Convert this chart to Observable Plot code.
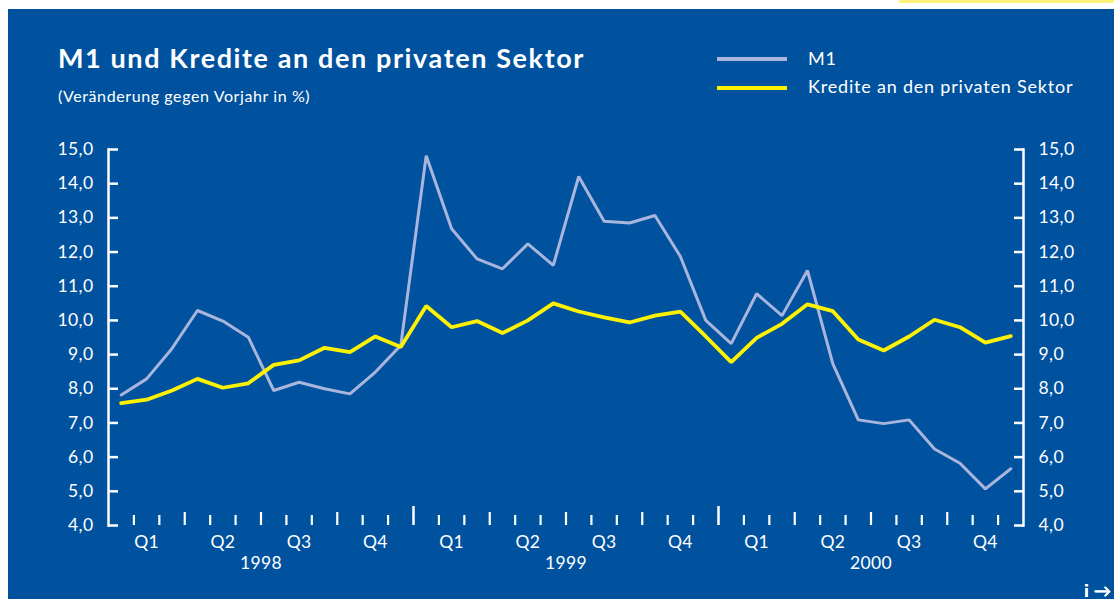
<!DOCTYPE html>
<html>
<head>
<meta charset="utf-8">
<script src="https://cdn.jsdelivr.net/npm/d3@7"></script>
<script src="https://cdn.jsdelivr.net/npm/@observablehq/plot@0.6"></script>
<style>
  html, body { margin: 0; padding: 0; background: #ffffff; width: 1114px; height: 599px; overflow: hidden; }
  #wrap { position: relative; width: 1114px; height: 599px; font-family: Lato, "Open Sans", sans-serif; }
  #panel { position: absolute; left: 8px; top: 9px; right: 0; bottom: 0; background: #00529e; }
  #strip { position: absolute; left: 899px; top: 0; width: 215px; height: 3px; background: #fff27a; }
  #title { position: absolute; left: 58px; top: 41px; color: #fff; font-weight: 700; font-size: 27px; letter-spacing: 1.6px; white-space: nowrap; }
  #subtitle { position: absolute; left: 58px; top: 86px; color: #fff; font-size: 16px; letter-spacing: 0.6px; white-space: nowrap; }
  .leg { position: absolute; left: 717px; height: 4px; width: 70px; }
  .legtxt { position: absolute; left: 808px; color: #fff; font-size: 18px; letter-spacing: 0.8px; white-space: nowrap; }
  #chart { position: absolute; left: 0; top: 0; }
</style>
</head>
<body>
<div id="wrap">
  <div id="panel"></div>
  <div id="strip"></div>
  <div id="title">M1 und Kredite an den privaten Sektor</div>
  <div id="subtitle">(Veränderung gegen Vorjahr in %)</div>
  <div class="leg" style="top:57px;background:#a9b5dd"></div>
  <div class="legtxt" style="top:47px">M1</div>
  <div class="leg" style="top:86px;background:#fff200"></div>
  <div class="legtxt" style="top:75px">Kredite an den privaten Sektor</div>
  <div id="chart"></div>
</div>
<script>
// Monthly values, Jan 1998 – Dec 2000
const m1 = [7.82, 8.29, 9.18, 10.29, 9.98, 9.51, 7.95, 8.19, 8.00, 7.85, 8.49, 9.27,
            14.82, 12.68, 11.80, 11.51, 12.24, 11.61, 14.21, 12.90, 12.85, 13.07, 11.87, 10.00,
            9.32, 10.78, 10.14, 11.46, 8.73, 7.09, 6.98, 7.09, 6.24, 5.82, 5.07, 5.66];
const kredite = [7.58, 7.68, 7.95, 8.29, 8.03, 8.16, 8.70, 8.83, 9.20, 9.07, 9.53, 9.22,
                 10.42, 9.80, 9.98, 9.63, 10.00, 10.50, 10.26, 10.09, 9.94, 10.14, 10.26, 9.53,
                 8.78, 9.49, 9.90, 10.47, 10.27, 9.44, 9.12, 9.53, 10.02, 9.80, 9.35, 9.54];
const years = ["1998", "1999", "2000"];
const quarters = ["Q1", "Q2", "Q3", "Q4"];
const yTicks = [4, 5, 6, 7, 8, 9, 10, 11, 12, 13, 14, 15];

const nMonths = m1.length;
const rows = m1.map((v, i) => ({i: i + 0.5, m1: v, kr: kredite[i]}));
const yearBounds = years.slice(1).map((_, k) => (k + 1) * 12);
const quarterBounds = d3.range(3, nMonths, 3).filter(t => t % 12 !== 0);
const monthBounds = d3.range(1, nMonths).filter(t => t % 3 !== 0);
const quarterCenters = years.flatMap((y, k) => quarters.map((q, j) => k * 12 + j * 3 + 1.5));
const yearCenters = years.map((y, k) => k * 12 + 6);
const fmt = d => d.toFixed(1).replace(".", ",");
const white = "#ffffff";
const fontFam = "Lato, 'Open Sans', sans-serif";

const chart = Plot.plot({
  width: 1114,
  height: 599,
  marginLeft: 108,
  marginRight: 91,
  marginTop: 149,
  marginBottom: 74,
  style: {background: "transparent", color: white, fontFamily: fontFam, fontSize: "17px", letterSpacing: "0.4px"},
  x: {domain: [0, nMonths], axis: null},
  y: {domain: [4, 15], axis: null},
  marks: [
    Plot.frame({anchor: "left", stroke: white, strokeWidth: 2.5}),
    Plot.frame({anchor: "right", stroke: white, strokeWidth: 2.5}),
    Plot.axisY({anchor: "left", ticks: yTicks, tickSize: -10, tickPadding: 25, tickFormat: fmt,
                stroke: white, strokeWidth: 2.5, fill: white, fontSize: 17.5}),
    Plot.axisY({anchor: "right", ticks: yTicks, tickSize: -10, tickPadding: 25, tickFormat: fmt,
                stroke: white, strokeWidth: 2.5, fill: white, fontSize: 17.5}),
    Plot.axisX({anchor: "bottom", ticks: monthBounds, tickSize: -10, tickFormat: () => "", stroke: white, strokeWidth: 2.2}),
    Plot.axisX({anchor: "bottom", ticks: quarterBounds, tickSize: -13, tickFormat: () => "", stroke: white, strokeWidth: 2.2}),
    Plot.axisX({anchor: "bottom", ticks: yearBounds, tickSize: -19, tickFormat: () => "", stroke: white, strokeWidth: 2.5}),
    Plot.axisX({anchor: "bottom", ticks: quarterCenters, tickSize: 0, tickPadding: 10,
                tickFormat: (d, k) => quarters[k % 4], fill: white, fontSize: 17.5}),
    Plot.axisX({anchor: "bottom", ticks: yearCenters, tickSize: 0, tickPadding: 31,
                tickFormat: (d, k) => years[k], fill: white, fontSize: 17.5}),
    Plot.line(rows, {x: "i", y: "m1", stroke: "#a9b5dd", strokeWidth: 3, strokeLinejoin: "miter"}),
    Plot.line(rows, {x: "i", y: "kr", stroke: "#fff200", strokeWidth: 3.8, strokeLinejoin: "miter"})
  ]
});
document.getElementById("chart").appendChild(chart);
</script>
</body>
</html>
